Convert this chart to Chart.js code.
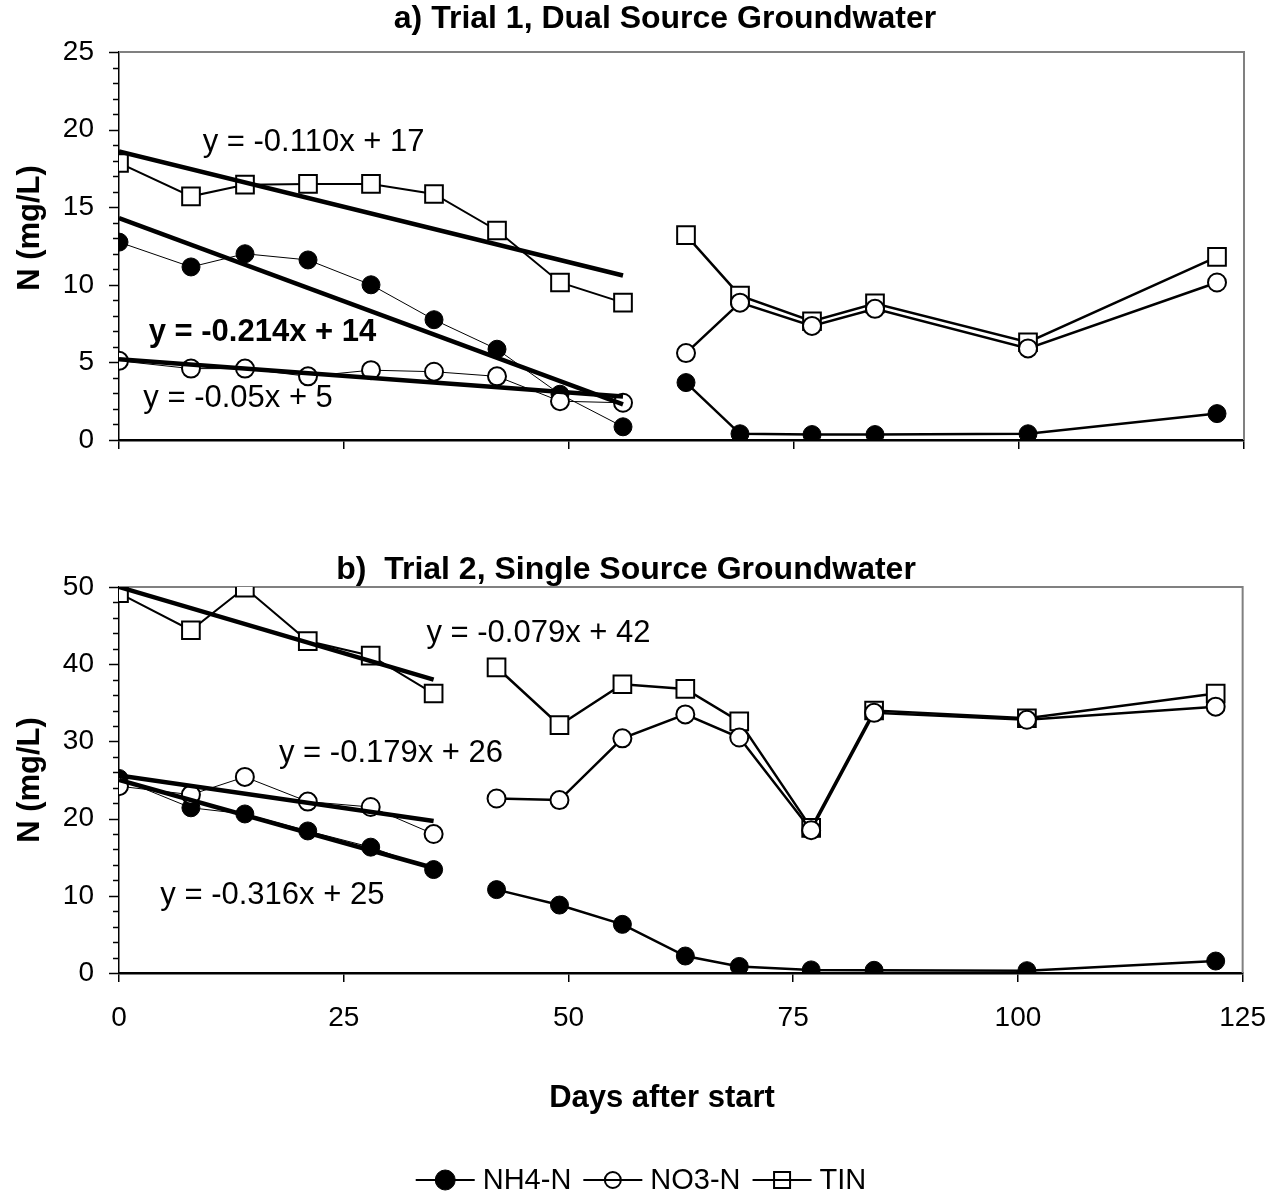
<!DOCTYPE html>
<html>
<head>
<meta charset="utf-8">
<script src="https://cdn.jsdelivr.net/npm/chart.js@4.4.1/dist/chart.umd.min.js"></script>
<style>
  html, body { margin: 0; padding: 0; background: #fff; }
  #wrap { position: relative; width: 1285px; height: 1197px; }
  canvas { position: absolute; left: 0; }
  #trial1 { top: 0; }
  #trial2 { top: 500px; }
</style>
</head>
<body>
<div id="wrap">
  <canvas id="trial1" width="1285" height="500"></canvas>
  <canvas id="trial2" width="1285" height="697"></canvas>
</div>
<script>
// ---- Trial 1, dual source groundwater (mg/L) ----
const trial1Days = [0, 8, 14, 21, 28, 35, 42, 49, 56, 63, 69, 77, 84, 101, 122];
const trial1NH4  = [12.75, 11.15, 12.0, 11.6, 10.0, 7.75, 5.85, 2.95, 0.85, 3.7, 0.4, 0.35, 0.35, 0.4, 1.7];
const trial1NO3  = [5.1, 4.6, 4.6, 4.1, 4.5, 4.4, 4.1, 2.5, 2.4, 5.6, 8.85, 7.35, 8.45, 5.9, 10.15];
const trial1TIN  = [17.85, 15.7, 16.45, 16.5, 16.5, 15.85, 13.5, 10.15, 8.85, 13.2, 9.3, 7.65, 8.8, 6.3, 11.8];
const trial1PhaseEnd = 56;   // last sampling day of the first phase

// Linear fits over the first phase (start and end of each fitted line)
const trial1FitDays = [0, 56];
const trial1FitTIN  = [18.6, 10.6];
const trial1FitNH4  = [14.3, 2.3];
const trial1FitNO3  = [5.2, 2.8];

// ---- Trial 2, single source groundwater (mg/L) ----
const trial2Days = [0, 8, 14, 21, 28, 35, 42, 49, 56, 63, 69, 77, 84, 101, 122];
const trial2NH4  = [25.2, 21.4, 20.6, 18.4, 16.3, 13.4, 10.8, 8.8, 6.3, 2.2, 0.85, 0.4, 0.35, 0.3, 1.55];
const trial2NO3  = [24.2, 23.1, 25.4, 22.2, 21.5, 18.0, 22.6, 22.4, 30.4, 33.5, 30.5, 18.5, 33.7, 32.8, 34.5];
const trial2TIN  = [49.2, 44.4, 49.9, 43.0, 41.1, 36.2, 39.6, 32.1, 37.4, 36.8, 32.6, 18.8, 34.0, 33.0, 36.2];
const trial2PhaseEnd = 35;

const trial2FitDays = [0, 35];
const trial2FitTIN  = [50.0, 38.0];
const trial2FitNO3  = [25.6, 19.7];
const trial2FitNH4  = [25.0, 13.6];

// Axis ticks
const xTickStep = 25;
const xMax = 125;
const trial1YMax = 25, trial1YMajor = 5, trial1YMinor = 1;
const trial2YMax = 50, trial2YMajor = 10, trial2YMinor = 2;

// Fit equations shown beside the lines
const trial1Equations = [
  { text: 'y = -0.110x + 17', day: 9.3, value: 19.2, bold: false },
  { text: 'y = -0.214x + 14', day: 3.3, value: 6.9,  bold: true },
  { text: 'y = -0.05x + 5',   day: 2.7, value: 2.7,  bold: false }
];
const trial2Equations = [
  { text: 'y = -0.079x + 42', day: 34.2, value: 44.0, bold: false },
  { text: 'y = -0.179x + 26', day: 17.8, value: 28.5, bold: false },
  { text: 'y = -0.316x + 25', day: 4.6,  value: 10.1, bold: false }
];

const seriesNames = ['NH4-N', 'NO3-N', 'TIN'];

const FONT = '"Liberation Sans", Arial, Helvetica, sans-serif';

// Build {x,y} points with a null between the two phases so the line breaks
function toPoints(days, values, phaseEnd) {
  const pts = [];
  days.forEach((d, i) => {
    pts.push({ x: d, y: values[i] });
    if (d === phaseEnd && i < days.length - 1) {
      pts.push({ x: (d + days[i + 1]) / 2, y: null });
    }
  });
  return pts;
}
function fitPoints(days, values) {
  return days.map((d, i) => ({ x: d, y: values[i] }));
}

const markerStyles = {
  'NH4-N': { pointStyle: 'circle', pointRadius: 9, pointBackgroundColor: '#000', pointBorderColor: '#000', pointBorderWidth: 1 },
  'NO3-N': { pointStyle: 'circle', pointRadius: 9, pointBackgroundColor: '#fff', pointBorderColor: '#000', pointBorderWidth: 2 },
  'TIN':   { pointStyle: 'rect',   pointRadius: 12.5, pointBackgroundColor: '#fff', pointBorderColor: '#000', pointBorderWidth: 2 }
};
// Marker half-sizes used in the legend
const legendMarkerHalf = { 'NH4-N': 10, 'NO3-N': 8, 'TIN': 8 };

function seriesDataset(name, days, values, phaseEnd, earlyWidth, lateWidth, order) {
  return Object.assign({
    label: name,
    data: toPoints(days, values, phaseEnd),
    borderColor: '#000',
    borderWidth: lateWidth,
    spanGaps: false,
    order: order,
    segment: {
      borderWidth: ctx => (ctx.p0.parsed.x < phaseEnd ? earlyWidth : lateWidth)
    }
  }, markerStyles[name]);
}
function fitDataset(days, values) {
  return {
    label: 'fit',
    data: fitPoints(days, values),
    borderColor: '#000',
    borderWidth: 4.5,
    pointRadius: 0,
    order: 0
  };
}

// Frame, minor ticks and text drawn on top of the chart
function decorations(opts) {
  return {
    id: 'decorations',
    beforeDatasetsDraw(chart) {
      const { ctx, chartArea: a } = chart;
      ctx.save();
      ctx.strokeStyle = '#808080';
      ctx.lineWidth = 2;
      ctx.beginPath();
      ctx.moveTo(a.left, a.top);
      ctx.lineTo(a.right, a.top);
      ctx.lineTo(a.right, a.bottom);
      ctx.stroke();
      // y-axis tick marks (long at labelled values)
      const ys = chart.scales.y;
      ctx.strokeStyle = '#000';
      ctx.lineWidth = 1.5;
      for (let v = 0; v <= opts.yMax + 1e-9; v += opts.yMinor) {
        const py = Math.round(ys.getPixelForValue(v)) + 0.5;
        const major = Math.abs(v / opts.yMajor - Math.round(v / opts.yMajor)) < 1e-6;
        ctx.beginPath();
        ctx.moveTo(a.left - (major ? 10 : 6), py);
        ctx.lineTo(a.left, py);
        ctx.stroke();
      }
      ctx.restore();
    },
    afterDraw(chart) {
      const { ctx, chartArea: a } = chart;
      const xs = chart.scales.x, ys = chart.scales.y;
      ctx.save();
      ctx.fillStyle = '#000';
      // panel title
      ctx.font = 'bold 32px ' + FONT;
      ctx.textAlign = 'center';
      ctx.textBaseline = 'middle';
      ctx.fillText(opts.title, opts.titleX, opts.titleY);
      // y-axis title
      ctx.font = 'bold 31px ' + FONT;
      ctx.save();
      ctx.translate(opts.yTitleX, (a.top + a.bottom) / 2 + opts.yTitleShift);
      ctx.rotate(-Math.PI / 2);
      ctx.fillText('N (mg/L)', 0, 0);
      ctx.restore();
      // fit equations
      ctx.textAlign = 'left';
      opts.equations.forEach(eq => {
        ctx.font = (eq.bold ? 'bold ' : '') + '31px ' + FONT;
        ctx.fillText(eq.text, xs.getPixelForValue(eq.day), ys.getPixelForValue(eq.value));
      });
      if (opts.extra) opts.extra(chart);
      ctx.restore();
    }
  };
}

// x-axis title and legend under the second panel
function drawFooter(chart) {
  const { ctx } = chart;
  ctx.fillStyle = '#000';
  ctx.font = 'bold 31px ' + FONT;
  ctx.textAlign = 'center';
  ctx.textBaseline = 'middle';
  ctx.fillText('Days after start', 662, 598);

  ctx.font = '29px ' + FONT;
  const lineLen = 59, gapText = 8, gapItem = 12;
  const widths = seriesNames.map(n => ctx.measureText(n).width);
  const total = widths.reduce((s, w) => s + lineLen + gapText + w, 0) + gapItem * (seriesNames.length - 1);
  let x = 641 - total / 2;
  const y = 680;
  seriesNames.forEach((name, i) => {
    ctx.strokeStyle = '#000';
    ctx.lineWidth = 2;
    ctx.beginPath();
    ctx.moveTo(x, y);
    ctx.lineTo(x + lineLen, y);
    ctx.stroke();
    const cx = x + lineLen / 2;
    const st = markerStyles[name];
    const h = legendMarkerHalf[name];
    ctx.lineWidth = st.pointBorderWidth;
    ctx.fillStyle = st.pointBackgroundColor;
    ctx.strokeStyle = st.pointBorderColor;
    ctx.beginPath();
    if (st.pointStyle === 'rect') {
      ctx.rect(cx - h, y - h, 2 * h, 2 * h);
    } else {
      ctx.arc(cx, y, h, 0, Math.PI * 2);
    }
    ctx.fill();
    ctx.stroke();
    if (name !== 'NH4-N') {
      // the series line runs through the open markers
      ctx.beginPath();
      ctx.moveTo(cx - h, y);
      ctx.lineTo(cx + h, y);
      ctx.stroke();
    }
    ctx.fillStyle = '#000';
    ctx.textAlign = 'left';
    ctx.fillText(name, x + lineLen + gapText, y + 1);
    x += lineLen + gapText + widths[i] + gapItem;
  });
}

function panelOptions(cfg) {
  return {
    responsive: false,
    animation: false,
    events: [],
    layout: { padding: { top: cfg.top, right: 41, left: 0, bottom: 0 } },
    plugins: { legend: { display: false }, tooltip: { enabled: false }, title: { display: false } },
    scales: {
      x: {
        type: 'linear', min: 0, max: xMax,
        ticks: {
          stepSize: xTickStep, display: cfg.xLabels, color: '#000',
          font: { family: FONT, size: 28 }, padding: 19, maxRotation: 0
        },
        grid: { drawOnChartArea: false, drawTicks: true, tickLength: 9, color: '#000', lineWidth: 1.5 },
        border: { color: '#000', width: 2.5 },
        afterFit(s) { s.height = cfg.xHeight; }
      },
      y: {
        min: 0, max: cfg.yMax,
        ticks: { stepSize: cfg.yMajor, color: '#000', font: { family: FONT, size: 28 }, padding: 25 },
        grid: { drawOnChartArea: false, drawTicks: false },
        border: { color: '#000', width: 1.5 },
        afterFit(s) { s.width = 119; }
      }
    }
  };
}

new Chart(document.getElementById('trial1'), {
  type: 'line',
  data: {
    datasets: [
      fitDataset(trial1FitDays, trial1FitTIN),
      fitDataset(trial1FitDays, trial1FitNH4),
      fitDataset(trial1FitDays, trial1FitNO3),
      seriesDataset('NO3-N', trial1Days, trial1NO3, trial1PhaseEnd, 1, 2.5, 1),
      seriesDataset('NH4-N', trial1Days, trial1NH4, trial1PhaseEnd, 1, 2.5, 2),
      seriesDataset('TIN',   trial1Days, trial1TIN, trial1PhaseEnd, 2, 2.5, 3)
    ]
  },
  options: panelOptions({ top: 52, yMax: trial1YMax, yMajor: trial1YMajor, xLabels: false, xHeight: 60 }),
  plugins: [decorations({
    title: 'a) Trial 1, Dual Source Groundwater', titleX: 665, titleY: 19,
    yTitleX: 30, yTitleShift: -18,
    yMax: trial1YMax, yMajor: trial1YMajor, yMinor: trial1YMinor,
    equations: trial1Equations
  })]
});

new Chart(document.getElementById('trial2'), {
  type: 'line',
  data: {
    datasets: [
      fitDataset(trial2FitDays, trial2FitTIN),
      fitDataset(trial2FitDays, trial2FitNO3),
      fitDataset(trial2FitDays, trial2FitNH4),
      seriesDataset('NO3-N', trial2Days, trial2NO3, trial2PhaseEnd, 1, 2.5, 1),
      seriesDataset('NH4-N', trial2Days, trial2NH4, trial2PhaseEnd, 1, 2.5, 2),
      seriesDataset('TIN',   trial2Days, trial2TIN, trial2PhaseEnd, 2, 2.5, 3)
    ]
  },
  options: panelOptions({ top: 87, yMax: trial2YMax, yMajor: trial2YMajor, xLabels: true, xHeight: 224 }),
  plugins: [decorations({
    title: 'b)  Trial 2, Single Source Groundwater', titleX: 626, titleY: 70,
    yTitleX: 30, yTitleShift: 0,
    yMax: trial2YMax, yMajor: trial2YMajor, yMinor: trial2YMinor,
    equations: trial2Equations,
    extra: drawFooter
  })]
});
</script>
</body>
</html>
